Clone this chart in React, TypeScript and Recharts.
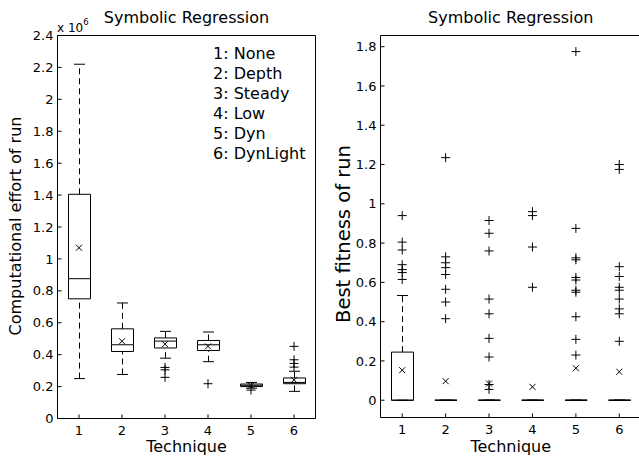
import * as React from "react";
import { ComposedChart, Bar, Line, XAxis, YAxis } from "recharts";

const techniques = ["1", "2", "3", "4", "5", "6"];
const techniqueNames = ["None", "Depth", "Steady", "Low", "Dyn", "DynLight"];

// computational effort of run, in units of 10^6
const effortLow = [0.25, 0.276, 0.378, 0.356, 0.19, 0.17];
const effortQ1 = [0.75, 0.42, 0.442, 0.426, 0.2, 0.218];
const effortMedian = [0.876, 0.462, 0.485, 0.462, 0.208, 0.226];
const effortQ3 = [1.405, 0.562, 0.505, 0.489, 0.216, 0.254];
const effortHigh = [2.22, 0.724, 0.546, 0.542, 0.226, 0.296];
const effortMean = [1.07, 0.484, 0.466, 0.452, 0.206, 0.242];
const effortOutliers = [[], [], [0.32, 0.305, 0.258], [0.218], [0.178], [0.452, 0.368, 0.345, 0.322]];
const effortTicks = [0, 0.2, 0.4, 0.6, 0.8, 1, 1.2, 1.4, 1.6, 1.8, 2, 2.2, 2.4];

// best fitness of run
const fitnessLow = [0, 0, 0, 0, 0, 0];
const fitnessQ1 = [0, 0, 0, 0, 0, 0];
const fitnessMedian = [0, 0, 0, 0, 0, 0];
const fitnessQ3 = [0.245, 0, 0, 0, 0, 0];
const fitnessHigh = [0.533, 0, 0, 0, 0, 0];
const fitnessMean = [0.153, 0.097, 0.085, 0.068, 0.163, 0.145];
const fitnessOutliers = [
    [0.94, 0.805, 0.765, 0.69, 0.665, 0.65, 0.615],
    [1.235, 0.73, 0.7, 0.675, 0.64, 0.565, 0.5, 0.415],
    [0.915, 0.85, 0.76, 0.515, 0.44, 0.315, 0.22, 0.08, 0.055],
    [0.96, 0.94, 0.78, 0.575],
    [1.775, 0.875, 0.725, 0.715, 0.625, 0.612, 0.56, 0.55, 0.425, 0.31, 0.23],
    [1.2, 1.175, 0.68, 0.63, 0.575, 0.56, 0.515, 0.465, 0.44, 0.3],
];
const fitnessTicks = [0, 0.2, 0.4, 0.6, 0.8, 1, 1.2, 1.4, 1.6, 1.8];

const FONT = "'DejaVu Sans', sans-serif";
const INK = "#000";
const DASH = "6 4";

interface Row {
    tech: string;
    base: number;
    lowWhisker: number;
    lowBox: number;
    highBox: number;
    highWhisker: number;
    mean: number;
    outliers: number[];
}

// stacked segments: 0..low, low..q1, q1..median, median..q3, q3..high
function buildRows(low: number[], q1: number[], med: number[], q3: number[], high: number[], mean: number[], outliers: number[][]): Row[] {
    return techniques.map((tech, i) => ({
        tech,
        base: low[i],
        lowWhisker: q1[i] - low[i],
        lowBox: med[i] - q1[i],
        highBox: q3[i] - med[i],
        highWhisker: high[i] - q3[i],
        mean: mean[i],
        outliers: outliers[i],
    }));
}

const effortRows = buildRows(effortLow, effortQ1, effortMedian, effortQ3, effortHigh, effortMean, effortOutliers);
const fitnessRows = buildRows(fitnessLow, fitnessQ1, fitnessMedian, fitnessQ3, fitnessHigh, fitnessMean, fitnessOutliers);

const fmt = (v: number) => String(+v.toFixed(1));

// segment shapes
const LowerCap = (p: any) => {
    const cx = p.x + p.width / 2;
    return <line x1={cx - p.width / 4} x2={cx + p.width / 4} y1={p.y} y2={p.y} stroke={INK} />;
};
const LowerWhisker = (p: any) => {
    const cx = p.x + p.width / 2;
    return <line x1={cx} x2={cx} y1={p.y + p.height} y2={p.y} stroke={INK} strokeDasharray={DASH} />;
};
const LowerBox = (p: any) => (
    <path d={`M${p.x},${p.y}V${p.y + p.height}H${p.x + p.width}V${p.y}Z`} fill="none" stroke={INK} />
);
const UpperBox = (p: any) => (
    <path d={`M${p.x},${p.y + p.height}V${p.y}H${p.x + p.width}V${p.y + p.height}`} fill="none" stroke={INK} />
);
const UpperWhisker = (p: any) => {
    const cx = p.x + p.width / 2;
    return (
        <g>
            <line x1={cx} x2={cx} y1={p.y + p.height} y2={p.y} stroke={INK} strokeDasharray={DASH} />
            <line x1={cx - p.width / 4} x2={cx + p.width / 4} y1={p.y} y2={p.y} stroke={INK} />
        </g>
    );
};

const PlusDot = (p: any) => {
    if (p.cx == null || p.cy == null || p.value == null) return <g key={p.key} />;
    const { cx, cy } = p;
    return <path key={p.key} d={`M${cx - 4.5},${cy}H${cx + 4.5}M${cx},${cy - 4.5}V${cy + 4.5}`} stroke={INK} fill="none" />;
};
const CrossDot = (p: any) => {
    if (p.cx == null || p.cy == null) return <g key={p.key} />;
    const { cx, cy } = p;
    return <path key={p.key} d={`M${cx - 3},${cy - 3}L${cx + 3},${cy + 3}M${cx - 3},${cy + 3}L${cx + 3},${cy - 3}`} stroke={INK} fill="none" />;
};

const tickStyle = { fill: INK, fontSize: 13, fontFamily: FONT };

interface PanelProps {
    rows: Row[];
    yTicks: number[];
    yDomain: [number, number];
    width: number;
    yAxisWidth: number;
    xAxisHeight: number;
    marginRight: number;
}

function BoxPanel({ rows, yTicks, yDomain, width, yAxisWidth, xAxisHeight, marginRight }: PanelProps) {
    const slots = Math.max(...rows.map((r) => r.outliers.length));
    return (
        <ComposedChart width={width} height={457} data={rows} margin={{ top: 34.5, right: marginRight, bottom: 0, left: 0 }}>
            <XAxis dataKey="tech" interval={0} height={xAxisHeight} tickSize={-4} tickMargin={11} tick={tickStyle} stroke={INK} />
            <XAxis xAxisId="top" orientation="top" type="number" domain={[0.5, 6.5]} ticks={techniques.map(Number)} height={1} tick={false} tickSize={-4} stroke={INK} allowDataOverflow />
            <YAxis type="number" domain={yDomain} ticks={yTicks} interval={0} width={yAxisWidth} tickSize={-4} tickMargin={8} tick={tickStyle} tickFormatter={fmt} stroke={INK} allowDataOverflow />
            <YAxis yAxisId="right" orientation="right" type="number" domain={yDomain} ticks={yTicks} interval={0} width={1} tick={false} tickSize={-4} stroke={INK} allowDataOverflow />
            <Bar dataKey="base" stackId="box" barSize={22} shape={LowerCap} isAnimationActive={false} />
            <Bar dataKey="lowWhisker" stackId="box" barSize={22} shape={LowerWhisker} isAnimationActive={false} />
            <Bar dataKey="lowBox" stackId="box" barSize={22} shape={LowerBox} isAnimationActive={false} />
            <Bar dataKey="highBox" stackId="box" barSize={22} shape={UpperBox} isAnimationActive={false} />
            <Bar dataKey="highWhisker" stackId="box" barSize={22} shape={UpperWhisker} isAnimationActive={false} />
            <Line dataKey="mean" stroke="none" dot={CrossDot} activeDot={false} isAnimationActive={false} />
            {Array.from({ length: slots }, (_, k) => (
                <Line
                    key={k}
                    dataKey={(r: Row) => (r.outliers[k] === undefined ? null : r.outliers[k])}
                    stroke="none"
                    dot={PlusDot}
                    activeDot={false}
                    isAnimationActive={false}
                />
            ))}
        </ComposedChart>
    );
}

export default function App() {
    return (
        <div style={{ position: "absolute", left: 0, top: 0, width: 639, height: 457, overflow: "hidden", background: "#fff" }}>
            <div style={{ position: "absolute", left: 0, top: 0 }}>
                <BoxPanel rows={effortRows} yTicks={effortTicks} yDomain={[0, 2.4]} width={320} yAxisWidth={57.5} xAxisHeight={38.5} marginRight={3.5} />
            </div>
            <div style={{ position: "absolute", left: 320, top: 0 }}>
                <BoxPanel rows={fitnessRows} yTicks={fitnessTicks} yDomain={[-0.088, 1.857]} width={330} yAxisWidth={60.5} xAxisHeight={39.5} marginRight={8} />
            </div>
            <svg width={639} height={457} style={{ position: "absolute", left: 0, top: 0, pointerEvents: "none" }} fontFamily={FONT} fill={INK}>
                <text x={186.5} y={23} fontSize={16} textAnchor="middle">Symbolic Regression</text>
                <text x={510.75} y={23} fontSize={16} textAnchor="middle">Symbolic Regression</text>
                <text x={57} y={31.5} fontSize={12}>
                    x 10<tspan fontSize={8.5} dy={-7}>6</tspan>
                </text>
                {techniques.map((t, i) => (
                    <text key={t} x={213} y={59 + i * 20} fontSize={16}>
                        {t}: {techniqueNames[i]}
                    </text>
                ))}
                <text x={20.5} y={226} fontSize={16} textAnchor="middle" transform="rotate(-90 20.5 226)">
                    Computational effort of run
                </text>
                <text x={350} y={234} fontSize={19.5} textAnchor="middle" transform="rotate(-90 350 234)">
                    Best fitness of run
                </text>
                <text x={186.5} y={451.5} fontSize={16} textAnchor="middle">Technique</text>
                <text x={510.75} y={451.5} fontSize={16} textAnchor="middle">Technique</text>
            </svg>
        </div>
    );
}
